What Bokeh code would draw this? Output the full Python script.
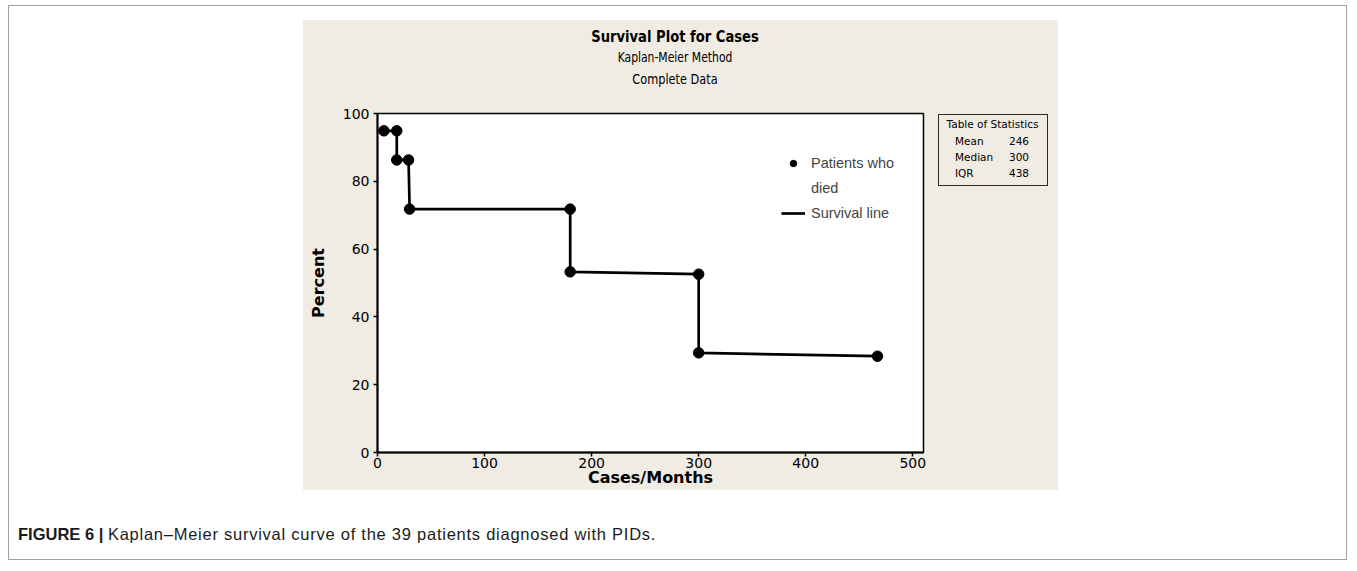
from bokeh.plotting import figure
from bokeh.layouts import column, row
from bokeh.models import Legend, LegendItem, FixedTicker, Range1d, Div, Spacer
from bokeh.embed import file_html
from bokeh.resources import INLINE

# ---- data ----
time_months = [6, 18, 18, 29, 30, 180, 180, 300, 300, 467]
survival_pct = [94.9, 94.9, 86.3, 86.3, 71.8, 71.8, 53.3, 52.6, 29.4, 28.4]
x_ticks = [0, 100, 200, 300, 400, 500]
y_ticks = [0, 20, 40, 60, 80, 100]
stat_names = ["Mean", "Median", "IQR"]
stat_values = ["246", "300", "438"]

title_text = "Survival Plot for Cases"
subtitle_lines = ["Kaplan-Meier Method", "Complete Data"]
legend_labels = ["Patients who", "died", "Survival line"]
caption_bold = "FIGURE 6 |"
caption_text = "Kaplan\u2013Meier survival curve of the 39 patients diagnosed with PIDs."

FONT = "DejaVu Sans"
CAP_FONT = "Liberation Sans"
BEIGE = "#F0EBE3"

PANEL_W, PANEL_H = 755, 470
PLOT_W, PLOT_H = 627, 387
TABLE_W, TABLE_H = 110, 72

p = figure(width=PLOT_W, height=PLOT_H, output_backend="svg", toolbar_location=None,
           x_range=Range1d(0, 510), y_range=Range1d(0, 100),
           min_border_left=74, min_border_right=7,
           min_border_top=10, min_border_bottom=38)
p.background_fill_color = "white"
p.border_fill_color = BEIGE
p.grid.visible = False
p.outline_line_color = "black"
p.outline_line_width = 1.5
p.outline_line_alpha = 1

ln = p.line(time_months, survival_pct, line_width=2.7, line_color="black")
sc = p.scatter(time_months, survival_pct, size=10.5, fill_color="black", line_color="black")
# empty, invisible renderer that only carries the second legend line ("died")
blank = p.scatter(x=[], y=[], size=0, fill_alpha=0, line_alpha=0)

for ax, ticks in ((p.xaxis, x_ticks), (p.yaxis, y_ticks)):
    ax.ticker = FixedTicker(ticks=ticks)
    ax.minor_tick_line_color = None
    ax.major_tick_in = 0
    ax.major_tick_out = 4
    ax.major_tick_line_width = 1.5
    ax.axis_line_width = 2
    ax.axis_line_color = "black"
    ax.major_label_text_font = FONT
    ax.major_label_text_font_size = "14px"
    ax.major_label_text_color = "black"
    ax.axis_label_text_font = FONT
    ax.axis_label_text_font_style = "bold"
    ax.axis_label_text_font_size = "16px"
    ax.axis_label_text_color = "black"

p.xaxis.axis_label = "Cases/Months"
p.xaxis.major_label_standoff = 1
p.xaxis.axis_label_standoff = -3
p.yaxis.axis_label = "Percent"
p.yaxis.major_label_standoff = 4
p.yaxis.axis_label_standoff = 12

legend = Legend(items=[LegendItem(label=legend_labels[0], renderers=[sc]),
                       LegendItem(label=legend_labels[1], renderers=[blank]),
                       LegendItem(label=legend_labels[2], renderers=[ln])],
                location=(404, 231), padding=0, margin=0, spacing=9,
                glyph_width=24, glyph_height=16, label_standoff=6,
                border_line_color=None, background_fill_alpha=0,
                label_text_font=CAP_FONT, label_text_font_size="14.5px")
p.add_layout(legend)


def text_div(text, width, height, size, bold=False, scale=1.0):
    st = {"font-family": FONT, "font-size": size, "line-height": f"{height}px",
          "font-weight": "bold" if bold else "normal", "text-align": "center",
          "color": "black", "white-space": "nowrap",
          "transform": f"scaleX({scale})"}
    return Div(text=text, width=width, height=height, margin=0, styles=st)


TW = 744  # titles are centred over the left part of the panel
title_div = text_div(title_text, TW, 22, "16px", bold=True, scale=0.82)
sub1_div = text_div(subtitle_lines[0], TW, 18, "13.5px", scale=0.8)
sub2_div = text_div(subtitle_lines[1], TW, 26, "13.5px", scale=0.84)

cell = "position:absolute;line-height:14px;white-space:nowrap;"
tops = [18.5, 34.5, 50.5]
parts = [f'<div style="{cell}left:0;right:0;top:1.5px;text-align:center">Table of Statistics</div>']
for n, v, t in zip(stat_names, stat_values, tops):
    parts.append(f'<div style="{cell}left:16px;top:{t}px">{n}</div>')
    parts.append(f'<div style="{cell}right:17px;top:{t}px;text-align:right">{v}</div>')
table_html = (f'<div style="position:relative;width:{TABLE_W - 3}px;height:{TABLE_H - 3}px">'
              + "".join(parts) + '</div>')
table_div = Div(text=table_html, width=TABLE_W, height=TABLE_H, margin=0,
                styles={"font-family": FONT, "font-size": "10.5px", "color": "black",
                        "border": "1.5px solid #2b2b2b", "background-color": BEIGE,
                        "box-sizing": "border-box"})

panel = column(
    Spacer(height=6, width=PANEL_W),
    title_div, sub1_div, sub2_div,
    Spacer(height=11, width=PANEL_W),
    row(p, Spacer(width=8, height=20), column(Spacer(height=11, width=TABLE_W), table_div)),
    width=PANEL_W, height=PANEL_H,
    styles={"background-color": BEIGE},
)

caption_div = Div(
    text=(f'<b style="letter-spacing:0">{caption_bold}</b> '
          f'<span style="letter-spacing:0.75px">{caption_text}</span>'),
    width=1200, height=20, margin=0,
    styles={"font-family": CAP_FONT, "font-size": "16.5px", "line-height": "20px",
            "color": "#1a1a1a", "white-space": "nowrap"})

outer = column(
    Spacer(height=14, width=1339),
    row(Spacer(width=294, height=PANEL_H), panel),
    Spacer(height=34, width=1339),
    row(Spacer(width=9, height=20), caption_div),
    width=1339, height=555,
    styles={"border": "1px solid #a0a0a0"},
)

root = column(
    Spacer(height=5, width=1350),
    row(Spacer(width=8, height=557), outer),
)

open("out.html", "w").write(file_html(root, INLINE))
